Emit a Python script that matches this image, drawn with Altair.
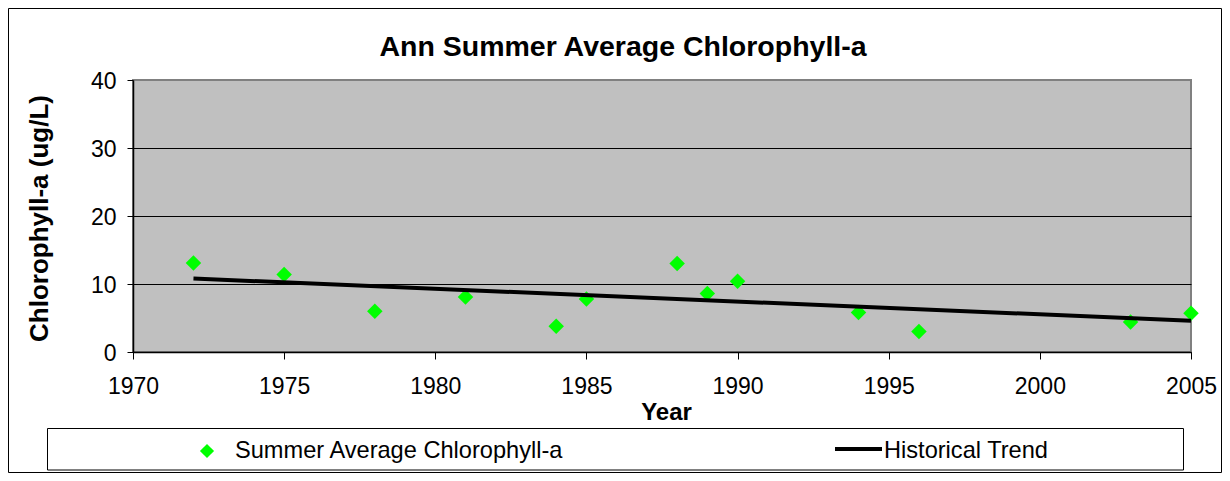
import altair as alt
import pandas as pd

# ---- data ----
years = [1972, 1975, 1978, 1981, 1984, 1985, 1988, 1989, 1990, 1994, 1996, 2003, 2005]
chl = [13.1, 11.4, 6.0, 8.1, 3.8, 7.8, 13.0, 8.6, 10.4, 5.8, 3.0, 4.4, 5.7]
trend_years = [1972, 2005]
trend_values = [10.8, 4.6]
x_ticks = [1970, 1975, 1980, 1985, 1990, 1995, 2000, 2005]
y_ticks = [0, 10, 20, 30, 40]
title_text = "Ann Summer Average Chlorophyll-a"
x_title = "Year"
y_title = "Chlorophyll-a (ug/L)"
series_names = ["Summer Average Chlorophyll-a", "Historical Trend"]

FONT = "Liberation Sans"
W, H = 1058, 272

pts = pd.DataFrame({"year": years, "chl": chl, "series": series_names[0]})
trend = pd.DataFrame({"year": trend_years, "chl": trend_values, "series": series_names[1]})
title_df = pd.DataFrame({"t": [title_text]})
leg1 = pd.DataFrame({"label": [series_names[0]]})
leg2 = pd.DataFrame({"label": [series_names[1]]})

x_enc = alt.X(
    "year:Q",
    scale=alt.Scale(domain=[1970, 2005], nice=False, zero=False),
    axis=alt.Axis(
        values=x_ticks, format="d", title=x_title, grid=False,
        tickSize=7, tickColor="black", domainColor="black", domainWidth=1.5,
        labelFontSize=23, labelPadding=16, labelFlush=False, labelOverlap=False,
        labelColor="black",
        titleFontSize=24, titleFontWeight="bold", titleColor="black",
        titleX=533, titleY=67.5, titleAlign="center", titleBaseline="alphabetic",
    ),
)
y_enc = alt.Y(
    "chl:Q",
    scale=alt.Scale(domain=[0, 40], nice=False),
    axis=alt.Axis(
        values=y_ticks, title=y_title, grid=True,
        gridColor=alt.condition("datum.value === 40", alt.value("#808080"), alt.value("black")),
        gridWidth=1,
        tickSize=6, tickColor="black", domainColor="black", domainWidth=1.5,
        labelFontSize=23, labelPadding=11, labelOffset=1, labelColor="black",
        titleFontSize=26, titleFontWeight="bold", titleColor="black",
        titleX=-86, titleY=138, titleAngle=270, titleAlign="center",
        titleBaseline="alphabetic",
    ),
)

frame = alt.Chart(title_df).mark_rect(fill="white", fillOpacity=0, stroke="black", strokeWidth=1).encode(
    x=alt.value(-124.5), x2=alt.value(1088.5), y=alt.value(-71.5), y2=alt.value(392.5)
)

title = alt.Chart(title_df).mark_text(
    font=FONT, fontSize=28.5, fontWeight="bold", align="center", baseline="alphabetic", color="black"
).encode(text="t:N", x=alt.value(490), y=alt.value(-24.5))

legend_box = alt.Chart(leg1).mark_rect(fill="white", stroke="black", strokeWidth=1).encode(
    x=alt.value(-85.5), x2=alt.value(1050.5), y=alt.value(348.5), y2=alt.value(390)
)

points = alt.Chart(pts).mark_point(
    shape="diamond", filled=True, size=240, color="#00FF00", opacity=1, strokeWidth=0
).encode(x=x_enc, y=y_enc)

line = alt.Chart(trend).mark_line(color="black", strokeWidth=4).encode(x=x_enc, y=y_enc)

leg_diamond = alt.Chart(leg1).mark_point(
    shape="diamond", filled=True, size=200, color="#00FF00", opacity=1, strokeWidth=0
).encode(x=alt.value(74), y=alt.value(371))
leg_text1 = alt.Chart(leg1).mark_text(
    font=FONT, fontSize=23.6, align="left", baseline="alphabetic", color="black"
).encode(text="label:N", x=alt.value(102), y=alt.value(378))
leg_line = alt.Chart(leg2).mark_rule(color="black", strokeWidth=4).encode(
    x=alt.value(702), x2=alt.value(749), y=alt.value(369)
)
leg_text2 = alt.Chart(leg2).mark_text(
    font=FONT, fontSize=23.6, align="left", baseline="alphabetic", color="black"
).encode(text="label:N", x=alt.value(751), y=alt.value(378))

chart = alt.layer(
    frame, legend_box, points, line, leg_diamond, leg_text1, leg_line, leg_text2, title
).properties(
    width=W, height=H, padding=0
).configure(
    font=FONT
).configure_view(
    fill="#C0C0C0", stroke="#808080", strokeWidth=2
).configure_axis(
    labelFont=FONT, titleFont=FONT
)

chart.save("out.html", embed_options={"renderer": "svg", "actions": False})
